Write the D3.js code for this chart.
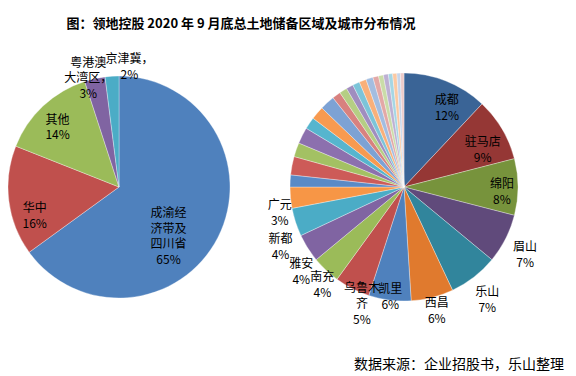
<!DOCTYPE html>
<html><head><meta charset="utf-8">
<script src="https://cdn.jsdelivr.net/npm/d3@7"></script>
<style>
body{margin:0;background:#fff;}
svg{display:block;font-family:"Noto Sans CJK SC","Noto Sans",sans-serif;}
</style></head>
<body><svg id="c" width="576" height="376"></svg>
<script>
// ---- data ----
const titleText = "图：领地控股 2020 年 9 月底总土地储备区域及城市分布情况";
const sourceText = "数据来源：企业招股书，乐山整理";
const leftNames = ["成渝经济带及四川省","华中","其他","粤港澳大湾区","京津冀"];
const leftValues = [65,16,14,3,2];
const rightCities = ["成都","驻马店","绵阳","眉山","乐山","西昌","凯里","乌鲁木齐","南充","雅安","新都","广元"];
const rightValues = [12,9,8,7,7,6,6,5,4,4,4,3];
const rightOtherValues = [1.7,2.6,2.0,2.3,1.7,1.9, 2.1,1.2,1.1,1.0,1.0,1.0, 1.0,0.8,0.7,0.7,0.6,0.6, 0.5,0.5];

// ---- styles / layout ----
const leftColors = ["#4F81BD","#C0504D","#9BBB59","#8064A2","#4BACC6"];
const rightColors = ["#3A6496","#953735","#77933C","#604A7B","#31859C","#E07A2E",
  "#4F81BD","#C0504D","#9BBB59","#8064A2","#4BACC6","#F79646",
  "#5A8AC6","#CD5B58","#A3C163","#8C70AE","#56B5CE","#F79A50",
  "#7DA2D4","#D8817F","#B5CE84","#A08DBF","#7CC4D9","#F9B07A",
  "#A3BDE0","#E3A8A6","#CADCA8","#BDB0D3","#A5D6E4","#FBC9A3",
  "#C6D5EA","#ECCBCA"];
const leftLayout = {cx:119, cy:187, r:111, lh:15.5,
  k:[0.62,0.80,0.78,1.03,1.10], da:[17,-11,-2,-3,8.5]};
const rightLayout = {cx:404, cy:187, r:114, lh:16,
  k:[0.80,0.77,0.86,1.21,1.22,1.11,0.96,1.08,1.11,1.16,1.20,1.11],
  da:[6.4,4.3,2,1.6,1,-0.6,0,-7,-3,-6.6,-7.5,-5.6]};

const svg = d3.select("#c");

svg.append("text").attr("x",241).attr("y",22)
  .attr("text-anchor","middle").attr("dominant-baseline","central")
  .attr("font-size",13).attr("font-weight",700).attr("fill","#000")
  .text(titleText);

function wrap(name, n, sep){
  const out=[]; for(let i=0;i<name.length;i+=n) out.push(name.slice(i,i+n));
  if(sep) out[out.length-1]+= "，";
  return out;
}

function drawPie(values, names, colors, L, sepFn){
  const pie = d3.pie().sort(null).value(d=>d)(values);
  const arc = d3.arc().innerRadius(0).outerRadius(L.r);
  const g = svg.append("g").attr("transform",`translate(${L.cx},${L.cy})`);
  g.selectAll("path").data(pie).join("path")
    .attr("d",arc).attr("fill",(d,i)=>colors[i])
    .attr("stroke","#fff").attr("stroke-opacity",0.55).attr("stroke-width",0.6);
  names.forEach((name,i)=>{
    const d = pie[i];
    const a = (d.startAngle+d.endAngle)/2 + L.da[i]*Math.PI/180;
    const dist = L.r*L.k[i];
    const x = dist*Math.sin(a), y = -dist*Math.cos(a);
    const lines = wrap(name,3,sepFn(i)).concat([values[i]+"%"]);
    const t = g.append("text").attr("text-anchor","middle")
      .attr("font-size",12).attr("fill","#000");
    lines.forEach((ln,j)=>{
      t.append("tspan").attr("x",x)
        .attr("y", y + (j-(lines.length-1)/2)*L.lh)
        .attr("dominant-baseline","central").text(ln);
    });
  });
}

drawPie(leftValues, leftNames, leftColors, leftLayout, i=>leftLayout.k[i]>1);
drawPie(rightValues.concat(rightOtherValues), rightCities, rightColors, rightLayout, ()=>false);

svg.append("text").attr("x",459).attr("y",363)
  .attr("text-anchor","middle").attr("dominant-baseline","central")
  .attr("font-size",14).attr("fill","#000").text(sourceText);
</script></body></html>
